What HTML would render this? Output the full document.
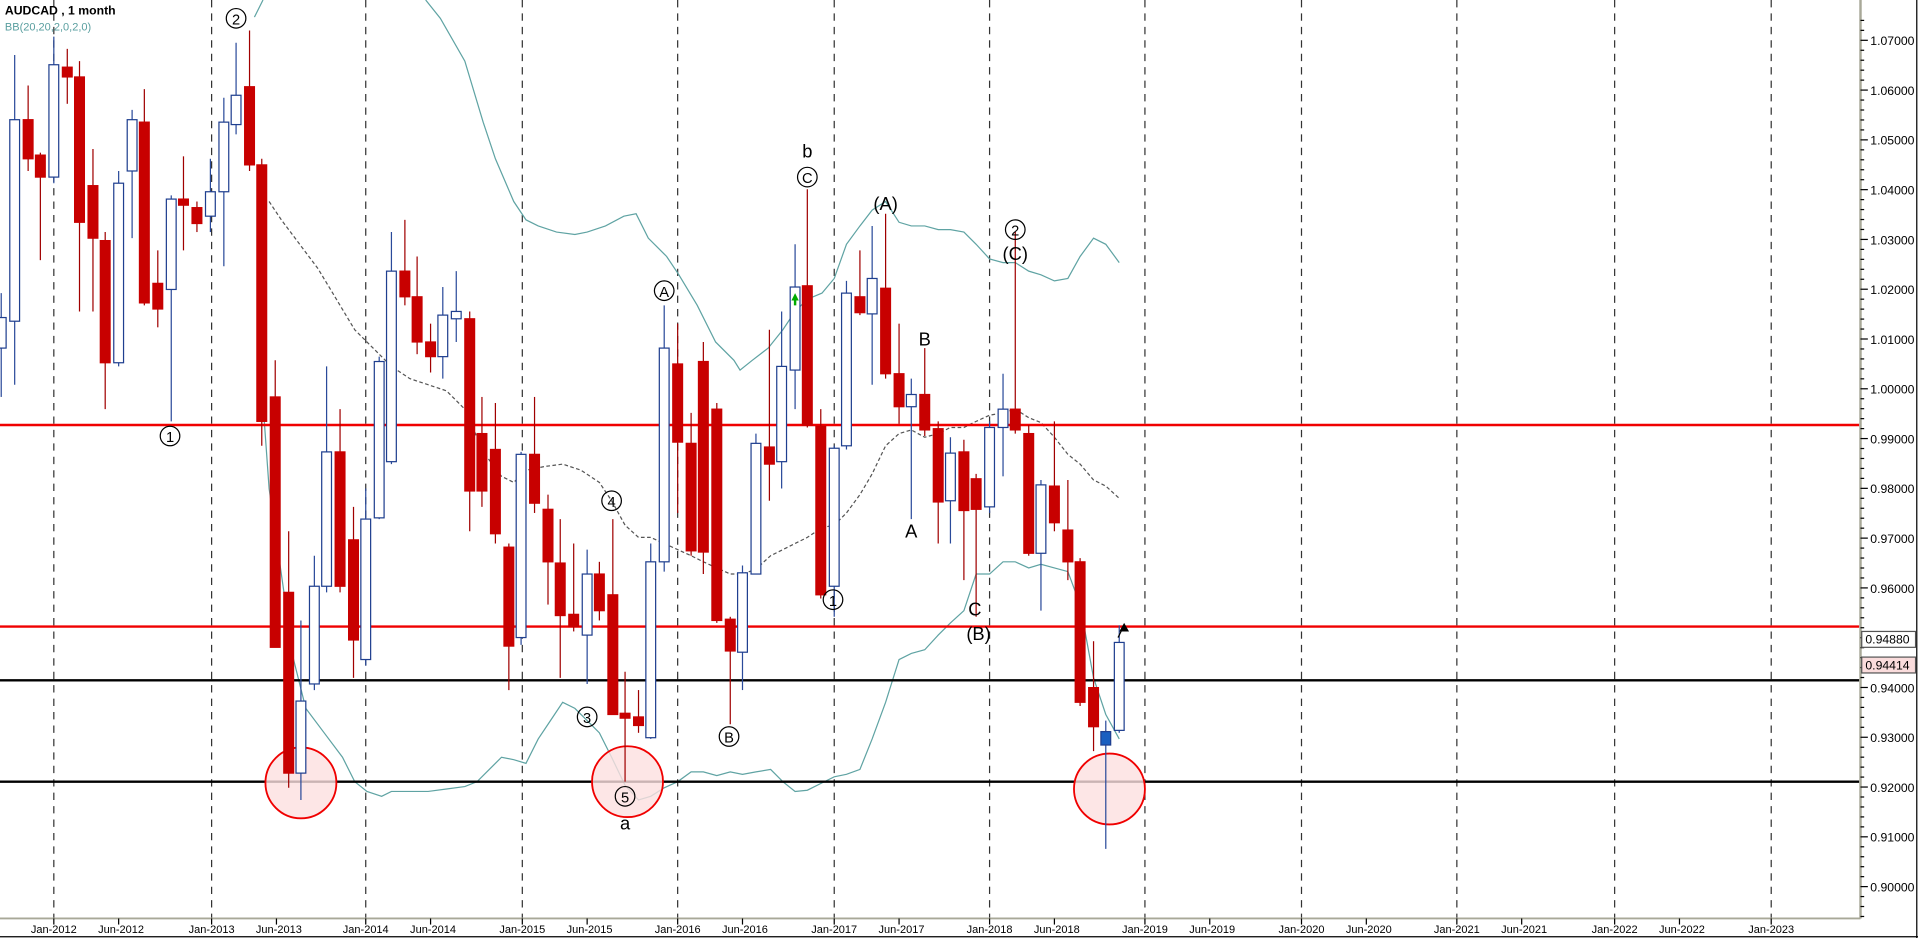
<!DOCTYPE html>
<html><head><meta charset="utf-8"><style>
html,body{margin:0;padding:0;background:#fff;overflow:hidden}
svg{display:block}
text{font-family:"Liberation Sans",sans-serif}
</style></head><body>
<svg id="s" width="1918" height="938" viewBox="0 0 1568 768" preserveAspectRatio="none" xmlns="http://www.w3.org/2000/svg">
<rect width="1568" height="768" fill="#fff"/>
<g id="grid"></g>
<g id="bb" fill="none"></g>
<line x1="0" y1="348" x2="1520" y2="348" stroke="#f00000" stroke-width="2"/>
<line x1="0" y1="513" x2="1520" y2="513" stroke="#f00000" stroke-width="2"/>
<line x1="0" y1="557" x2="1520" y2="557" stroke="#000" stroke-width="2"/>
<line x1="0" y1="640" x2="1520" y2="640" stroke="#000" stroke-width="2"/>
<g fill="#fde0e0" fill-opacity="0.8" stroke="#f00000" stroke-width="1.5">
<circle cx="246" cy="641" r="29"/><circle cx="513" cy="640" r="29"/><circle cx="907" cy="646" r="29"/>
</g>
<g id="candles"></g>
<g font-size="15" text-anchor="middle" fill="#000">
<g fill="none" stroke="#000" stroke-width="1">
<circle cx="193" cy="15" r="8"/><circle cx="139" cy="357" r="8"/><circle cx="830" cy="188" r="8"/>
<circle cx="660" cy="145" r="8"/><circle cx="543" cy="238" r="8"/><circle cx="500" cy="410" r="8"/>
<circle cx="480" cy="587" r="8"/><circle cx="511" cy="652" r="8"/><circle cx="596" cy="603" r="8"/>
<circle cx="681" cy="491" r="8"/>
</g>
<g font-size="12">
<text x="193" y="20">2</text><text x="139" y="362">1</text><text x="830" y="193">2</text>
<text x="660" y="150">C</text><text x="543" y="243">A</text><text x="500" y="415">4</text>
<text x="480" y="592">3</text><text x="511" y="657">5</text><text x="596" y="608">B</text>
<text x="681" y="496">1</text>
</g>
<text x="830" y="213">(C)</text><text x="660" y="129">b</text><text x="724" y="172">(A)</text>
<text x="756" y="283">B</text><text x="745" y="440">A</text><text x="797" y="504">C</text>
<text x="800" y="524">(B)</text><text x="511" y="679">a</text>
</g>
<path d="M650,240 l-3,6 h2 v4 h2 v-4 h2 z" fill="#0a0"/>
<path d="M919,510 l-4,7 h8 z" fill="#000"/>
<line x1="914" y1="522" x2="919" y2="512" stroke="#000"/>
<text x="4" y="12" font-size="10" font-weight="bold">AUDCAD , 1 month</text>
<text x="4" y="25" font-size="9" fill="#5a9fa0">BB(20,20,2,0,2,0)</text>
<rect x="1520" y="0" width="48" height="768" fill="#fff"/>
<line x1="1521" y1="0" x2="1521" y2="752" stroke="#a8a898" stroke-width="2"/>
<line x1="0" y1="752" x2="1521" y2="752" stroke="#a8a898" stroke-width="1.5"/>
<line x1="0" y1="767" x2="1568" y2="767" stroke="#000"/>
<line x1="1567" y1="0" x2="1567" y2="768" stroke="#000"/>
<g id="axis" font-size="10" fill="#000"></g>
<rect x="1522" y="517" width="44" height="13" fill="#fff" stroke="#555"/>
<text x="1525" y="527" font-size="10">0.94880</text>
<rect x="1522" y="538" width="44" height="13" fill="#fadcdc" stroke="#555"/>
<text x="1525" y="548" font-size="10">0.94414</text>
</svg>
<script>
var NS="http://www.w3.org/2000/svg";
function el(p,t,a,txt){var e=document.createElementNS(NS,t);for(var k in a)e.setAttribute(k,a[k]);if(txt)e.textContent=txt;document.getElementById(p).appendChild(e);return e;}
var jans=[44,173,299,427,554,682,809,936,1064,1191,1320,1448];
var yrs=[2012,2013,2014,2015,2016,2017,2018,2019,2020,2021,2022,2023];
jans.forEach(function(x,i){
 el("grid","line",{x1:x,y1:0,x2:x,y2:752,stroke:"#333","stroke-dasharray":"6,5","stroke-width":1});
 el("axis","line",{x1:x,y1:752,x2:x,y2:757,stroke:"#000"});
 el("axis","text",{x:x,y:764,"text-anchor":"middle","font-size":"9"},"Jan-"+yrs[i]);
 if(yrs[i]<2023){
 el("axis","line",{x1:x+53,y1:752,x2:x+53,y2:757,stroke:"#000"});
 el("axis","text",{x:x+55,y:764,"text-anchor":"middle","font-size":"9"},"Jun-"+yrs[i]);}
});
function py(p){return 33+(1.07-p)*4076;}
for(var i=0;i<=90;i++){var p=0.894+i*0.002;var y=py(p);if(y<0||y>752)continue;
 var major=Math.abs(Math.round(p*100)-p*100)<1e-6;
 el("axis","line",{x1:1521,y1:y,x2:major?1527:1524,y2:y,stroke:"#000"});
 if(major && Math.abs(p-0.95)>0.001) el("axis","text",{x:1529,y:y+4},p.toFixed(5));
}
function pl(pts,st,dash){el("bb","polyline",{points:pts,stroke:st,"stroke-width":1,"stroke-dasharray":dash||""});}
pl("348,0 360,15 380,50 395,100 405,130 420,165 430,180 440,185 455,190 470,192 480,190 495,185 510,177 520,175 530,195 545,210 555,225 570,250 585,280 600,295 605,303 615,295 628,285 640,270 650,255 660,245 672,240 682,228 692,200 703,185 713,172 724,165 735,182 745,185 756,185 767,188 777,188 788,190 798,200 809,212 820,215 830,215 841,222 851,225 862,230 873,228 883,210 894,195 904,200 915,215","#5fa3a3");
pl("215,330 220,400 230,470 240,540 250,580 265,600 280,620 290,640 300,648 312,652 320,648 335,648 350,648 365,646 380,644 390,640 400,630 410,620 420,622 430,625 440,605 450,590 460,575 470,580 480,590 490,600 500,620 511,643 522,655 532,652 543,645 554,640 565,632 575,632 586,635 597,632 607,634 618,632 630,630 640,640 650,648 660,647 672,641 682,636 692,634 703,630 713,605 724,575 735,540 745,535 756,532 767,520 777,510 788,500 798,470 809,470 820,460 830,460 841,465 851,462 862,465 873,468 883,495 894,555 904,585 915,605","#5fa3a3");
pl("220,165 230,180 245,200 260,220 275,245 290,270 305,285 320,300 335,310 350,315 365,320 380,335 395,370 410,390 420,395 430,385 445,382 460,380 475,385 490,395 500,410 511,430 522,440 532,440 543,445 554,450 565,455 575,460 586,465 597,470 607,470 618,466 630,455 640,450 650,445 660,440 672,432 682,430 692,420 703,405 713,388 724,365 735,355 745,352 756,358 767,355 777,350 788,350 798,345 809,340 820,338 830,335 841,342 851,346 862,358 873,372 883,380 894,393 904,398 915,408","#555","3,2");
el("bb","line",{x1:208,y1:14,x2:215,y2:0,stroke:"#5fa3a3"});
var C=[[1,"w",260,285,240,325],[12,"w",98,263,45,315],[23,"r",98,130,70,140],[33,"r",127,145,125,213],[44,"w",53,145,30,150],[55,"r",55,63,40,85],[65,"r",63,182,50,255],[76,"r",152,195,122,255],[86,"r",197,297,190,335],[97,"w",150,297,140,300],[108,"w",98,140,90,195],[118,"r",100,248,73,250],[129,"r",232,253,205,268],[140,"w",163,237,160,345],[150,"r",163,168,128,205],[161,"r",170,183,165,190],[172,"w",157,177,130,190],[183,"w",100,157,80,218],[193,"w",78,102,35,110],[204,"r",71,135,25,140],[214,"r",135,345,130,365],[225,"r",325,530,295,530],[236,"r",485,633,435,645],[246,"w",574,633,508,655],[257,"w",480,560,455,565],[267,"w",370,480,300,485],[278,"r",370,480,335,485],[289,"r",442,524,415,555],[299,"w",425,540,400,545],[310,"w",296,424,292,425],[320,"w",222,378,190,380],[331,"r",222,243,180,250],[341,"r",243,280,210,290],[352,"r",280,292,265,305],[362,"w",258,292,235,310],[373,"w",255,261,222,280],[384,"r",261,402,255,435],[394,"r",355,402,325,415],[405,"r",368,437,330,445],[416,"r",448,529,445,565],[426,"w",372,522,370,528],[437,"r",372,412,325,420],[448,"r",417,460,405,495],[458,"r",461,504,425,555],[469,"r",503,513,445,517],[480,"w",470,520,450,560],[490,"r",470,500,460,508],[501,"r",487,585,425,585],[511,"r",584,588,550,640],[522,"r",587,594,565,600],[532,"w",460,604,445,605],[543,"w",285,460,250,468],[554,"r",298,362,265,420],[565,"r",363,451,338,455],[575,"r",296,452,280,470],[586,"r",335,508,330,510],[597,"r",507,533,505,593],[607,"w",469,534,463,565],[618,"w",363,470,355,470],[629,"r",366,380,270,410],[639,"w",300,378,255,400],[650,"w",235,303,200,335],[660,"r",234,348,155,350],[671,"r",349,487,335,490],[682,"w",367,480,365,505],[692,"w",240,365,230,368],[703,"r",243,256,205,258],[713,"w",228,257,185,315],[724,"r",236,306,175,310],[735,"r",306,333,265,347],[745,"w",323,333,310,425],[756,"r",323,352,285,357],[767,"r",351,411,345,445],[777,"w",371,410,358,445],[788,"r",370,418,360,475],[798,"r",392,417,388,505],[809,"w",350,415,345,420],[820,"w",335,350,306,390],[830,"r",335,352,190,355],[841,"r",355,453,348,455],[851,"w",397,453,393,500],[862,"r",398,428,345,435],[873,"r",434,460,393,475],[883,"r",460,575,457,578],[894,"r",563,595,525,615],[904,"b",599,610,590,695],[915,"w",526,598,512,600]];
C.forEach(function(c){
 var x=c[0],t=c[1];
 var wc=t=="r"?"#a00000":"#2a4a9a";
 el("candles","line",{x1:x,y1:c[4],x2:x,y2:c[5],stroke:wc,"stroke-width":1});
 var fill=t=="r"?"#c80000":(t=="b"?"#1a5fc0":"#fff");
 var st=t=="r"?"#c80000":"#1f3f8f";
 el("candles","rect",{x:x-4,y:c[2],width:8,height:Math.max(1,c[3]-c[2]),fill:fill,stroke:st,"stroke-width":1});
});
</script>
</body></html>
